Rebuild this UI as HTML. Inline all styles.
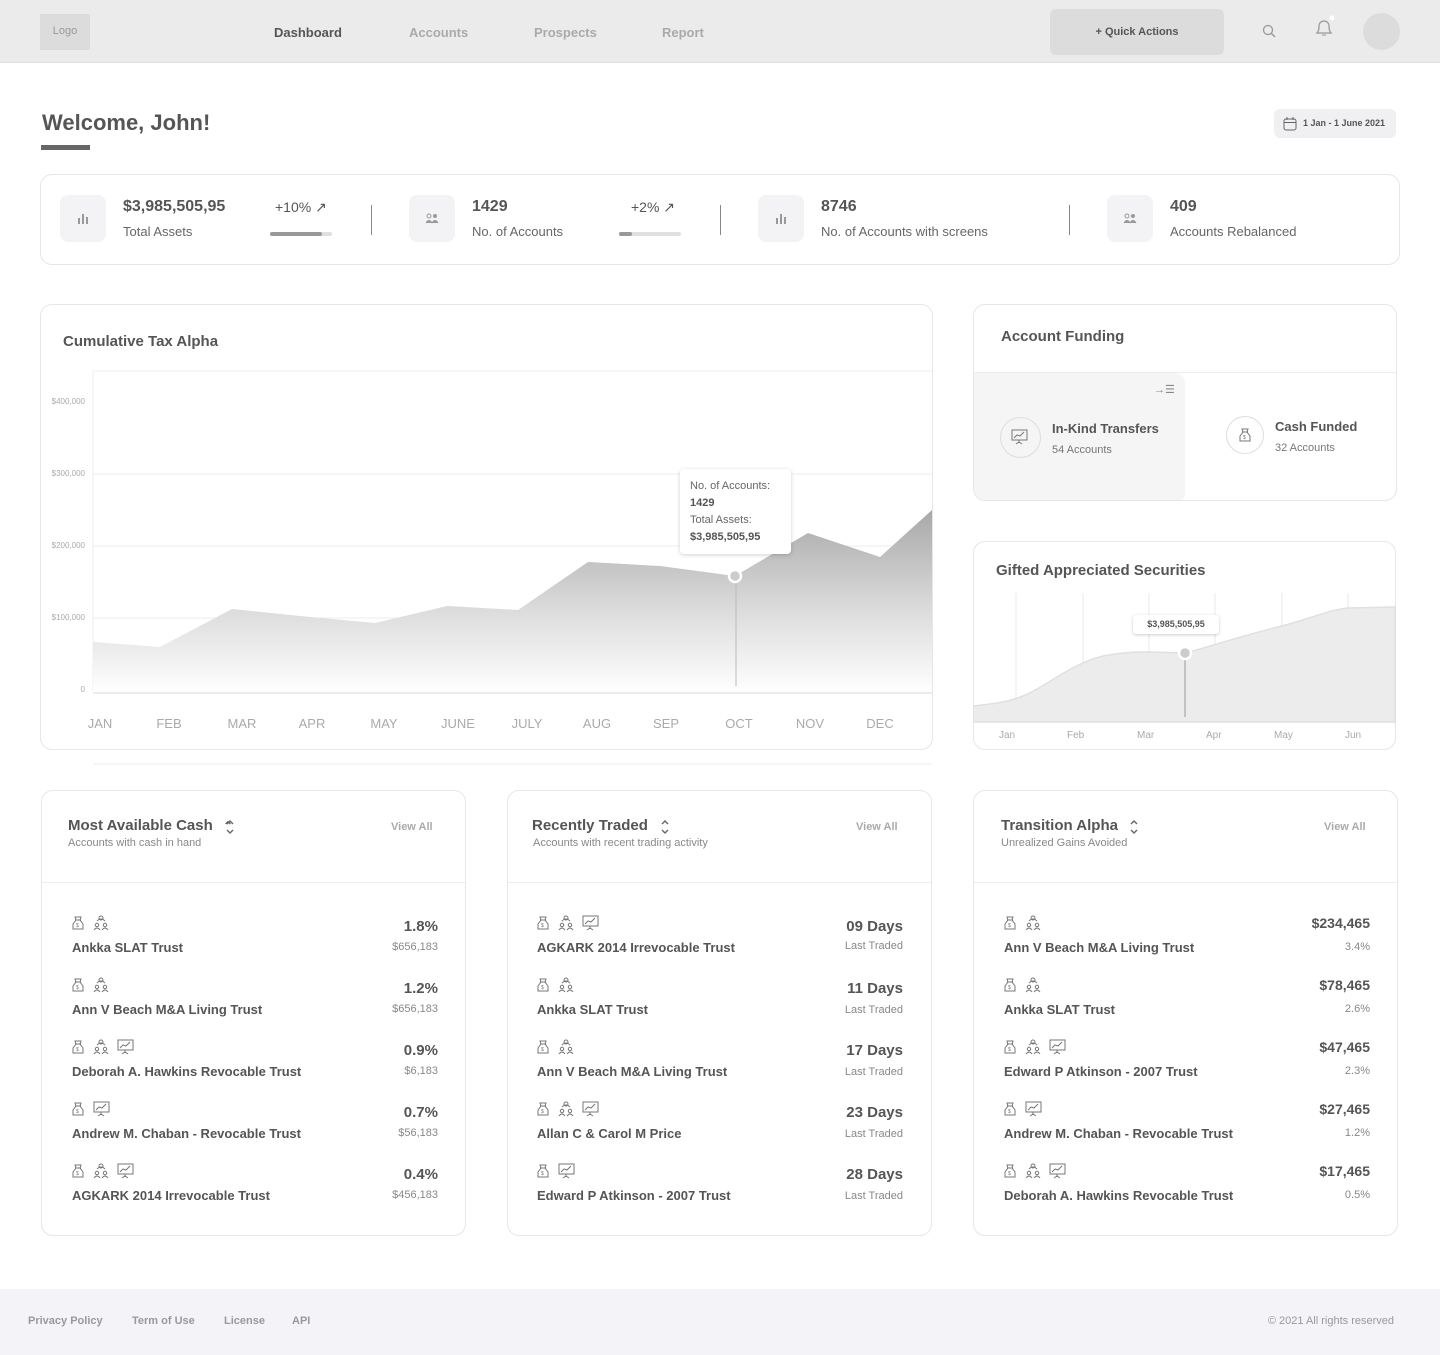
<!DOCTYPE html>
<html><head><meta charset="utf-8"><style>
*{margin:0;padding:0;box-sizing:border-box}
body{width:1440px;height:1355px;background:#fff;font-family:"Liberation Sans",sans-serif;color:#555;position:relative;overflow:hidden}
.a{position:absolute;white-space:nowrap}
.card{position:absolute;border:1px solid #e6e6e6;border-radius:12px;background:#fff}
.nav{font-size:13px;color:#aaa;font-weight:bold;top:25px}
.ib{position:absolute;width:46px;height:47px;background:#f3f3f6;border-radius:8px;top:195px}
.sv{font-size:16px;font-weight:bold;color:#555;top:198px}
.sl{font-size:13px;color:#666;top:224px}
.yl{font-size:8px;color:#aaa;right:1355px;text-align:right}
.xl{font-size:13px;color:#aaa;top:716px;transform:translateX(-50%)}
.t{font-size:15px;font-weight:bold;color:#555}
.sub{font-size:11px;color:#888}
.va{font-size:11px;color:#aaa;font-weight:bold}
.nm{font-size:13px;color:#555;font-weight:bold}
.rv{font-size:15px;font-weight:bold;color:#555;text-align:right}
.rs{font-size:11px;color:#888;text-align:right}
.fl{font-size:11px;color:#999;font-weight:bold;top:1315px}
</style></head><body>
<svg width="0" height="0" style="position:absolute"><defs>
<g id="bag"><path d="M5 3h6l-1 3 3 4v5H3v-5l3-4z" fill="none" stroke="#777" stroke-width="1"/><line x1="5" y1="6" x2="11" y2="6" stroke="#777"/><text x="6" y="13" font-size="5" fill="#777" font-family="Liberation Sans">$</text></g>
<g id="ppl"><circle cx="8" cy="4" r="2" fill="none" stroke="#777"/><circle cx="4" cy="11" r="1.7" fill="none" stroke="#777"/><circle cx="12" cy="11" r="1.7" fill="none" stroke="#777"/><path d="M1 16q3-4 6 0M9 16q3-4 6 0M4 7q4-4 8 0" fill="none" stroke="#777"/></g>
<g id="brd"><rect x="1" y="2" width="15" height="10" fill="none" stroke="#777"/><polyline points="3,10 6,7 9,8 13,4" fill="none" stroke="#777"/><path d="M8 12v3M5 16l3-2 3 2" stroke="#777" fill="none"/></g>
</defs></svg>

<!-- header -->
<div class="a" style="left:0;top:0;width:1440px;height:63px;background:#ebebeb;border-bottom:1px solid #dedede"></div>
<div class="a" style="left:40px;top:14px;width:50px;height:36px;background:#dcdcdc;font-size:11px;color:#999;text-align:center;line-height:34px">Logo</div>
<div class="a nav" style="left:274px;color:#555">Dashboard</div>
<div class="a nav" style="left:409px">Accounts</div>
<div class="a nav" style="left:534px">Prospects</div>
<div class="a nav" style="left:662px">Report</div>
<div class="a" style="left:1050px;top:9px;width:174px;height:46px;background:#dcdcdc;border-radius:6px;font-size:11px;font-weight:bold;color:#555;text-align:center;line-height:46px">+ Quick Actions</div>
<svg class="a" style="left:1262px;top:24px" width="16" height="16"><circle cx="6" cy="6" r="4.5" fill="none" stroke="#999" stroke-width="1.3"/><line x1="9.5" y1="9.5" x2="13" y2="13" stroke="#999" stroke-width="1.5"/></svg>
<svg class="a" style="left:1313px;top:14px" width="22" height="26"><path d="M4 19q2-2 2-7a5 5 0 0 1 10 0q0 5 2 7z" fill="none" stroke="#999" stroke-width="1.3"/><path d="M9 21h4" stroke="#999"/><circle cx="19" cy="4" r="2.5" fill="#fff"/></svg>
<div class="a" style="left:1363px;top:13px;width:37px;height:37px;border-radius:50%;background:#dcdcdc"></div>

<!-- welcome -->
<div class="a" style="left:42px;top:110px;font-size:22px;font-weight:bold;color:#555">Welcome, John!</div>
<div class="a" style="left:41px;top:145px;width:49px;height:5px;background:#666"></div>
<div class="a" style="left:1274px;top:109px;width:122px;height:29px;background:#f0f0f2;border-radius:6px;font-size:9px;font-weight:bold;color:#555;line-height:29px;padding-left:29px">1 Jan - 1 June 2021</div>
<svg class="a" style="left:1283px;top:117px" width="14" height="14"><rect x="1" y="2" width="12" height="11" rx="2" fill="none" stroke="#666"/><line x1="1" y1="5.5" x2="13" y2="5.5" stroke="#666"/><line x1="4" y1="0" x2="4" y2="3" stroke="#666"/><line x1="10" y1="0" x2="10" y2="3" stroke="#666"/></svg>

<!-- stats -->
<div class="card" style="left:40px;top:174px;width:1360px;height:91px"></div>
<div class="ib" style="left:60px"></div><div class="ib" style="left:409px"></div><div class="ib" style="left:758px"></div><div class="ib" style="left:1107px"></div>
<svg class="a" style="left:77px;top:213px" width="12" height="12"><rect x="1" y="5" width="2" height="6" fill="#999"/><rect x="5" y="1" width="2" height="10" fill="#999"/><rect x="9" y="4" width="2" height="7" fill="#999"/></svg>
<svg class="a" style="left:775px;top:213px" width="12" height="12"><rect x="1" y="5" width="2" height="6" fill="#999"/><rect x="5" y="1" width="2" height="10" fill="#999"/><rect x="9" y="4" width="2" height="7" fill="#999"/></svg>
<svg class="a" style="left:425px;top:212px" width="14" height="12"><circle cx="4" cy="4" r="2" fill="none" stroke="#999"/><circle cx="10" cy="4" r="2" fill="#999"/><path d="M1 11q3-5 6 0M7 11q3-5 6 0" fill="#999" stroke="#999"/></svg>
<svg class="a" style="left:1123px;top:212px" width="14" height="12"><circle cx="4" cy="4" r="2" fill="none" stroke="#999"/><circle cx="10" cy="4" r="2" fill="#999"/><path d="M1 11q3-5 6 0M7 11q3-5 6 0" fill="#999" stroke="#999"/></svg>
<div class="a sv" style="left:123px">$3,985,505,95</div><div class="a sl" style="left:123px">Total Assets</div>
<div class="a" style="left:275px;top:199px;font-size:14px;color:#555">+10% ↗</div>
<div class="a" style="left:270px;top:232px;width:62px;height:4px;background:#e0e0e0;border-radius:2px"><div style="width:52px;height:4px;background:#999;border-radius:2px"></div></div>
<div class="a" style="left:371px;top:205px;width:1px;height:30px;background:#888"></div>
<div class="a sv" style="left:472px">1429</div><div class="a sl" style="left:472px">No. of Accounts</div>
<div class="a" style="left:631px;top:199px;font-size:14px;color:#555">+2% ↗</div>
<div class="a" style="left:619px;top:232px;width:62px;height:4px;background:#e0e0e0;border-radius:2px"><div style="width:13px;height:4px;background:#999;border-radius:2px"></div></div>
<div class="a" style="left:720px;top:205px;width:1px;height:30px;background:#888"></div>
<div class="a sv" style="left:821px">8746</div><div class="a sl" style="left:821px">No. of Accounts with screens</div>
<div class="a" style="left:1069px;top:205px;width:1px;height:30px;background:#888"></div>
<div class="a sv" style="left:1170px">409</div><div class="a sl" style="left:1170px">Accounts Rebalanced</div>

<!-- main chart -->
<div class="card" style="left:40px;top:304px;width:893px;height:446px"></div>
<div class="a t" style="left:63px;top:333px">Cumulative Tax Alpha</div>
<svg class="a" style="left:0;top:0" width="940" height="770">
<defs><linearGradient id="g1" x1="0" y1="0" x2="0" y2="1"><stop offset="0" stop-color="#a8a8a8"/><stop offset="0.55" stop-color="#dcdcdc"/><stop offset="1" stop-color="#fff"/></linearGradient></defs>
<line x1="93" y1="371" x2="932" y2="371" stroke="#eee"/>
<line x1="93" y1="371" x2="93" y2="693" stroke="#eee"/>
<line x1="93" y1="474" x2="932" y2="474" stroke="#eee"/>
<line x1="93" y1="546" x2="932" y2="546" stroke="#eee"/>
<line x1="93" y1="618" x2="932" y2="618" stroke="#eee"/>
<polygon points="93,642 160,647 232,609 300,616 375,623 447,606 518,610 588,562 660,566 735,576 808,533 880,557 932,510 932,693 93,693" fill="url(#g1)"/>
<line x1="93" y1="693" x2="932" y2="693" stroke="#e6e6e6" stroke-width="1.5"/>
<line x1="736" y1="576" x2="736" y2="686" stroke="#bbb"/>
<circle cx="735" cy="576" r="6" fill="#ccc" stroke="#fff" stroke-width="2.5"/>
<line x1="93" y1="764" x2="932" y2="764" stroke="#eee"/>
</svg>
<div class="a yl" style="top:397px;left:40px;right:auto;width:45px">$400,000</div>
<div class="a yl" style="top:469px;left:40px;right:auto;width:45px">$300,000</div>
<div class="a yl" style="top:541px;left:40px;right:auto;width:45px">$200,000</div>
<div class="a yl" style="top:613px;left:40px;right:auto;width:45px">$100,000</div>
<div class="a yl" style="top:685px;left:40px;right:auto;width:45px">0</div>
<div class="a xl" style="left:100px">JAN</div><div class="a xl" style="left:169px">FEB</div><div class="a xl" style="left:242px">MAR</div><div class="a xl" style="left:312px">APR</div><div class="a xl" style="left:384px">MAY</div><div class="a xl" style="left:458px">JUNE</div><div class="a xl" style="left:527px">JULY</div><div class="a xl" style="left:597px">AUG</div><div class="a xl" style="left:666px">SEP</div><div class="a xl" style="left:739px">OCT</div><div class="a xl" style="left:810px">NOV</div><div class="a xl" style="left:880px">DEC</div>
<div class="a" style="left:680px;top:469px;width:111px;height:85px;background:#fff;border-radius:4px;box-shadow:0 1px 4px rgba(0,0,0,.18);padding:9px 10px;font-size:11px;line-height:17px;color:#666">No. of Accounts:<br><b style="color:#555">1429</b><br>Total Assets:<br><b style="color:#555">$3,985,505,95</b></div>

<!-- account funding -->
<div class="card" style="left:973px;top:304px;width:424px;height:197px;overflow:hidden">
<div style="position:absolute;left:0;top:67px;width:424px;height:1px;background:#eee"></div>
<div style="position:absolute;left:0;top:68px;width:211px;height:130px;background:#f5f5f5;border-radius:0 10px 10px 10px"></div>
</div>
<div class="a t" style="left:1001px;top:328px">Account Funding</div>
<div class="a" style="left:1154px;top:383px;font-size:11px;color:#888">→☰</div>
<div class="a" style="left:1000px;top:417px;width:41px;height:41px;border-radius:50%;border:1px solid #ddd"></div>
<svg class="a" style="left:1011px;top:428px" width="20" height="20"><use href="#brd"/></svg>
<div class="a" style="left:1052px;top:421px;font-size:13px;font-weight:bold;color:#555">In-Kind Transfers</div>
<div class="a" style="left:1052px;top:444px;font-size:11px;color:#777">54 Accounts</div>
<div class="a" style="left:1226px;top:416px;width:38px;height:38px;border-radius:50%;border:1px solid #ddd"></div>
<svg class="a" style="left:1237px;top:426px" width="17" height="17"><use href="#bag"/></svg>
<div class="a" style="left:1275px;top:419px;font-size:13px;font-weight:bold;color:#555">Cash Funded</div>
<div class="a" style="left:1275px;top:442px;font-size:11px;color:#777">32 Accounts</div>

<!-- gifted -->
<div class="card" style="left:973px;top:541px;width:423px;height:209px;overflow:hidden"></div>
<div class="a t" style="left:996px;top:562px">Gifted Appreciated Securities</div>
<svg class="a" style="left:973px;top:590px" width="423" height="135">
<g stroke="#e8e8e8"><line x1="43" y1="3" x2="43" y2="132"/><line x1="110" y1="3" x2="110" y2="132"/><line x1="176" y1="3" x2="176" y2="132"/><line x1="242" y1="3" x2="242" y2="132"/><line x1="309" y1="3" x2="309" y2="132"/><line x1="375" y1="3" x2="375" y2="132"/></g>
<path d="M0 116 C20 114 35 112 50 106 C75 96 95 75 130 66 C150 62 165 62 176 62 L212 63 C240 56 260 48 309 36 C340 28 355 20 375 18 L422 17 L422 132 L0 132 Z" fill="#ececec" stroke="#e0e0e0" stroke-width="1.5"/>
<line x1="212" y1="63" x2="212" y2="127" stroke="#999"/>
<circle cx="212" cy="63" r="6" fill="#ccc" stroke="#fff" stroke-width="2.5"/>
</svg>
<div class="a" style="left:1133px;top:615px;width:86px;height:19px;background:#fff;border-radius:3px;box-shadow:0 1px 3px rgba(0,0,0,.2);font-size:9px;font-weight:bold;color:#555;text-align:center;line-height:19px">$3,985,505,95</div>
<div class="a" style="left:999px;top:730px;font-size:10px;color:#aaa">Jan</div>
<div class="a" style="left:1067px;top:730px;font-size:10px;color:#aaa">Feb</div>
<div class="a" style="left:1137px;top:730px;font-size:10px;color:#aaa">Mar</div>
<div class="a" style="left:1206px;top:730px;font-size:10px;color:#aaa">Apr</div>
<div class="a" style="left:1274px;top:730px;font-size:10px;color:#aaa">May</div>
<div class="a" style="left:1345px;top:730px;font-size:10px;color:#aaa">Jun</div>

<!-- list cards -->
<div class="card" style="left:41px;top:790px;width:425px;height:446px"><div style="position:absolute;left:0;top:91px;width:423px;height:1px;background:#eee"></div></div>
<div class="card" style="left:507px;top:790px;width:425px;height:446px"><div style="position:absolute;left:0;top:91px;width:423px;height:1px;background:#eee"></div></div>
<div class="card" style="left:973px;top:790px;width:425px;height:446px"><div style="position:absolute;left:0;top:91px;width:423px;height:1px;background:#eee"></div></div>

<div class="a t" style="left:68px;top:817px">Most Available Cash <span style="font-size:12px;color:#666;margin-left:6px">⌃</span></div>
<div class="a sub" style="left:68px;top:837px">Accounts with cash in hand</div>
<div class="a va" style="left:391px;top:821px">View All</div>
<div class="a t" style="left:532px;top:817px">Recently Traded</div>
<div class="a sub" style="left:533px;top:837px">Accounts with recent trading activity</div>
<div class="a va" style="left:856px;top:821px">View All</div>
<div class="a t" style="left:1001px;top:817px">Transition Alpha</div>
<div class="a sub" style="left:1001px;top:837px">Unrealized Gains Avoided</div>
<div class="a va" style="left:1324px;top:821px">View All</div>
<svg class="a" style="left:224px;top:818px" width="12" height="18"><path d="M3 6l3-3 3 3M3 12l3 3 3-3" fill="none" stroke="#666" stroke-width="1.4"/></svg>
<svg class="a" style="left:659px;top:818px" width="12" height="18"><path d="M3 6l3-3 3 3M3 12l3 3 3-3" fill="none" stroke="#666" stroke-width="1.4"/></svg>
<svg class="a" style="left:1128px;top:818px" width="12" height="18"><path d="M3 6l3-3 3 3M3 12l3 3 3-3" fill="none" stroke="#666" stroke-width="1.4"/></svg>

<!-- column 1 rows -->
<svg class="a" style="left:70px;top:914px" width="90" height="300">
<use href="#bag" x="0" y="0"/><use href="#ppl" x="23" y="0"/>
<use href="#bag" x="0" y="62"/><use href="#ppl" x="23" y="62"/>
<use href="#bag" x="0" y="124"/><use href="#ppl" x="23" y="124"/><use href="#brd" x="47" y="124"/>
<use href="#bag" x="0" y="186"/><use href="#brd" x="23" y="186"/>
<use href="#bag" x="0" y="248"/><use href="#ppl" x="23" y="248"/><use href="#brd" x="47" y="248"/>
</svg>
<svg class="a" style="left:535px;top:914px" width="90" height="300">
<use href="#bag" x="0" y="0"/><use href="#ppl" x="23" y="0"/><use href="#brd" x="47" y="0"/>
<use href="#bag" x="0" y="62"/><use href="#ppl" x="23" y="62"/>
<use href="#bag" x="0" y="124"/><use href="#ppl" x="23" y="124"/>
<use href="#bag" x="0" y="186"/><use href="#ppl" x="23" y="186"/><use href="#brd" x="47" y="186"/>
<use href="#bag" x="0" y="248"/><use href="#brd" x="23" y="248"/>
</svg>
<svg class="a" style="left:1002px;top:914px" width="90" height="300">
<use href="#bag" x="0" y="0"/><use href="#ppl" x="23" y="0"/>
<use href="#bag" x="0" y="62"/><use href="#ppl" x="23" y="62"/>
<use href="#bag" x="0" y="124"/><use href="#ppl" x="23" y="124"/><use href="#brd" x="47" y="124"/>
<use href="#bag" x="0" y="186"/><use href="#brd" x="23" y="186"/>
<use href="#bag" x="0" y="248"/><use href="#ppl" x="23" y="248"/><use href="#brd" x="47" y="248"/>
</svg>

<div class="a nm" style="left:72px;top:940px">Ankka SLAT Trust</div>
<div class="a nm" style="left:72px;top:1002px">Ann V Beach M&amp;A Living Trust</div>
<div class="a nm" style="left:72px;top:1064px">Deborah A. Hawkins Revocable Trust</div>
<div class="a nm" style="left:72px;top:1126px">Andrew M. Chaban - Revocable Trust</div>
<div class="a nm" style="left:72px;top:1188px">AGKARK 2014 Irrevocable Trust</div>
<div class="a rv" style="right:1002px;top:918px">1.8%</div><div class="a rs" style="right:1002px;top:941px">$656,183</div>
<div class="a rv" style="right:1002px;top:980px">1.2%</div><div class="a rs" style="right:1002px;top:1003px">$656,183</div>
<div class="a rv" style="right:1002px;top:1042px">0.9%</div><div class="a rs" style="right:1002px;top:1065px">$6,183</div>
<div class="a rv" style="right:1002px;top:1104px">0.7%</div><div class="a rs" style="right:1002px;top:1127px">$56,183</div>
<div class="a rv" style="right:1002px;top:1166px">0.4%</div><div class="a rs" style="right:1002px;top:1189px">$456,183</div>

<div class="a nm" style="left:537px;top:940px">AGKARK 2014 Irrevocable Trust</div>
<div class="a nm" style="left:537px;top:1002px">Ankka SLAT Trust</div>
<div class="a nm" style="left:537px;top:1064px">Ann V Beach M&amp;A Living Trust</div>
<div class="a nm" style="left:537px;top:1126px">Allan C &amp; Carol M Price</div>
<div class="a nm" style="left:537px;top:1188px">Edward P Atkinson - 2007 Trust</div>
<div class="a rv" style="right:537px;top:918px">09 Days</div><div class="a rs" style="right:537px;top:940px">Last Traded</div>
<div class="a rv" style="right:537px;top:980px">11 Days</div><div class="a rs" style="right:537px;top:1004px">Last Traded</div>
<div class="a rv" style="right:537px;top:1042px">17 Days</div><div class="a rs" style="right:537px;top:1066px">Last Traded</div>
<div class="a rv" style="right:537px;top:1104px">23 Days</div><div class="a rs" style="right:537px;top:1128px">Last Traded</div>
<div class="a rv" style="right:537px;top:1166px">28 Days</div><div class="a rs" style="right:537px;top:1190px">Last Traded</div>

<div class="a nm" style="left:1004px;top:940px">Ann V Beach M&amp;A Living Trust</div>
<div class="a nm" style="left:1004px;top:1002px">Ankka SLAT Trust</div>
<div class="a nm" style="left:1004px;top:1064px">Edward P Atkinson - 2007 Trust</div>
<div class="a nm" style="left:1004px;top:1126px">Andrew M. Chaban - Revocable Trust</div>
<div class="a nm" style="left:1004px;top:1188px">Deborah A. Hawkins Revocable Trust</div>
<div class="a rv" style="right:70px;top:915px;font-size:14px">$234,465</div><div class="a rs" style="right:70px;top:941px">3.4%</div>
<div class="a rv" style="right:70px;top:977px;font-size:14px">$78,465</div><div class="a rs" style="right:70px;top:1003px">2.6%</div>
<div class="a rv" style="right:70px;top:1039px;font-size:14px">$47,465</div><div class="a rs" style="right:70px;top:1065px">2.3%</div>
<div class="a rv" style="right:70px;top:1101px;font-size:14px">$27,465</div><div class="a rs" style="right:70px;top:1127px">1.2%</div>
<div class="a rv" style="right:70px;top:1163px;font-size:14px">$17,465</div><div class="a rs" style="right:70px;top:1189px">0.5%</div>

<!-- footer -->
<div class="a" style="left:0;top:1289px;width:1440px;height:66px;background:#f4f4f8"></div>
<div class="a fl" style="left:28px">Privacy Policy</div>
<div class="a fl" style="left:132px">Term of Use</div>
<div class="a fl" style="left:224px">License</div>
<div class="a fl" style="left:292px">API</div>
<div class="a fl" style="right:46px;font-weight:normal">© 2021 All rights reserved</div>
</body></html>
